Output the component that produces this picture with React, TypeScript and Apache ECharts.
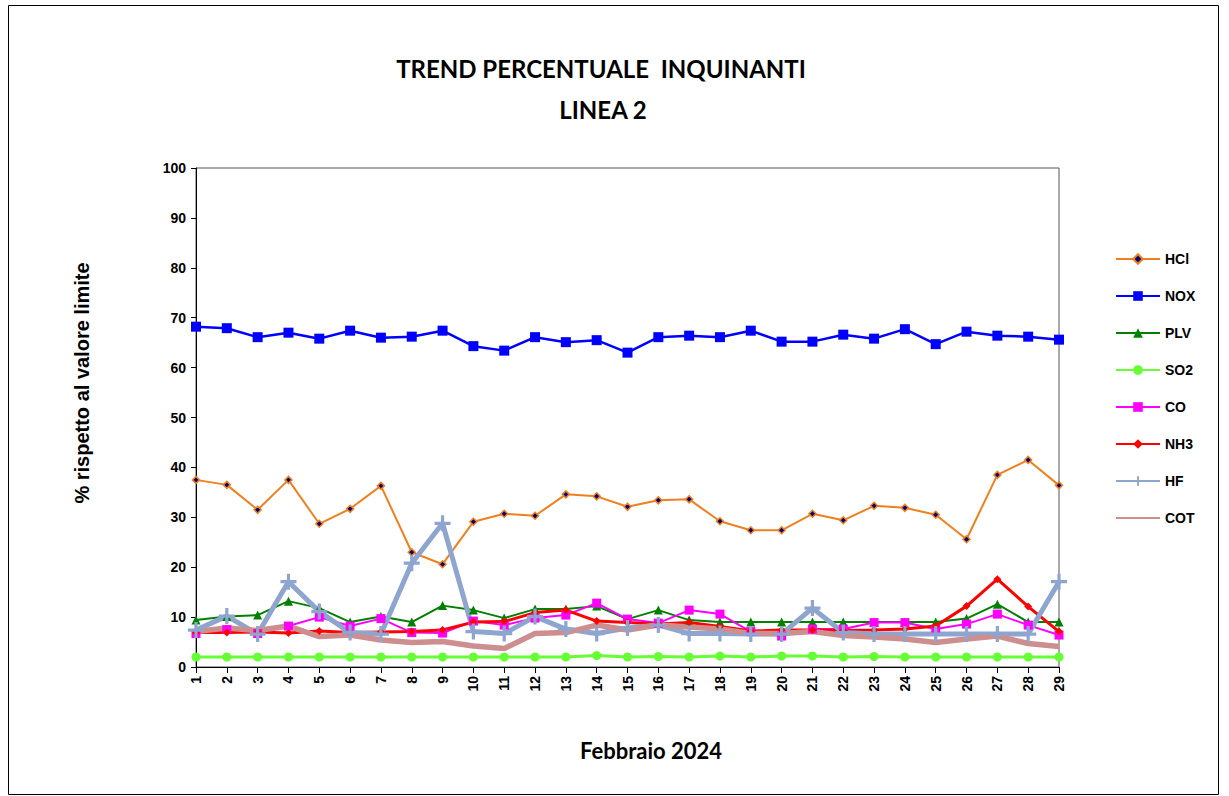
import React, { useEffect, useRef } from "react";
import * as echarts from "echarts";

const days = ["1","2","3","4","5","6","7","8","9","10","11","12","13","14","15","16","17","18","19","20","21","22","23","24","25","26","27","28","29"];
const yTicks = [0, 10, 20, 30, 40, 50, 60, 70, 80, 90, 100];

const hcl = [37.5, 36.5, 31.5, 37.5, 28.7, 31.7, 36.3, 23.0, 20.6, 29.1, 30.7, 30.3, 34.6, 34.2, 32.1, 33.4, 33.6, 29.2, 27.4, 27.4, 30.7, 29.4, 32.3, 31.9, 30.5, 25.6, 38.5, 41.5, 36.4];
const nox = [68.2, 67.9, 66.1, 67.0, 65.8, 67.4, 66.0, 66.2, 67.4, 64.3, 63.4, 66.1, 65.1, 65.5, 63.0, 66.1, 66.4, 66.1, 67.4, 65.2, 65.2, 66.6, 65.8, 67.7, 64.7, 67.2, 66.4, 66.2, 65.6];
const plv = [9.4, 10.1, 10.4, 13.2, 11.8, 9.0, 10.1, 9.0, 12.3, 11.4, 9.8, 11.6, 11.6, 12.2, 9.6, 11.4, 9.4, 9.0, 9.0, 9.0, 9.0, 9.0, 9.0, 9.0, 9.0, 9.7, 12.6, 9.0, 9.0];
const so2 = [2.0, 2.0, 2.0, 2.0, 2.0, 2.0, 2.0, 2.0, 2.0, 2.0, 2.0, 2.0, 2.0, 2.3, 2.0, 2.1, 2.0, 2.2, 2.0, 2.2, 2.2, 2.0, 2.1, 2.0, 2.0, 2.0, 2.0, 2.0, 2.0];
const co = [6.7, 7.5, 6.7, 8.2, 10.0, 8.2, 9.7, 6.9, 6.8, 9.2, 8.4, 9.8, 10.4, 12.8, 9.6, 8.8, 11.4, 10.6, 7.1, 6.2, 7.6, 7.6, 8.9, 8.9, 7.6, 8.6, 10.6, 8.4, 6.4];
const nh3 = [6.9, 6.9, 7.0, 6.8, 7.2, 6.9, 7.0, 7.1, 7.4, 9.0, 9.1, 10.9, 11.4, 9.2, 8.9, 8.6, 8.9, 8.1, 7.2, 7.4, 7.4, 7.3, 7.4, 7.6, 8.2, 12.2, 17.6, 12.1, 7.1];
const hf = [7.4, 10.2, 6.6, 17.1, 11.1, 6.9, 6.6, 20.8, 28.8, 7.1, 6.7, 10.1, 7.6, 6.7, 7.8, 8.4, 6.7, 6.7, 6.6, 6.6, 11.8, 6.9, 6.6, 6.6, 6.6, 6.6, 6.6, 6.6, 17.1];
const cot = [7.1, 7.8, 7.3, 8.2, 6.1, 6.4, 5.4, 4.9, 5.1, 4.2, 3.7, 6.7, 6.9, 8.4, 7.4, 8.4, 8.0, 7.6, 6.7, 6.7, 7.1, 6.3, 6.0, 5.6, 4.9, 5.6, 6.2, 4.7, 4.1];

const plusPath = "path://M4,0 L6,0 L6,4 L10,4 L10,6 L6,6 L6,10 L4,10 L4,6 L0,6 L0,4 L4,4 Z";

export default function App() {
  const ref = useRef<HTMLDivElement>(null);
  useEffect(() => {
    if (!ref.current) return;
    const chart = echarts.init(ref.current, null, { renderer: "svg" });
    const axisFont = { fontFamily: "Liberation Sans", fontWeight: "bold" as const, fontSize: 14, color: "#000" };
    const mk = (name: string, data: number[], color: string, width: number, symbol: string, size: number, extra: any = {}) => ({
      name,
      type: "line",
      data,
      symbol,
      symbolSize: size,
      showSymbol: symbol !== "none",
      lineStyle: { color, width },
      itemStyle: { color, borderColor: color, borderWidth: 0 },
      emphasis: { disabled: true },
      ...extra,
    });
    chart.setOption({
      animation: false,
      backgroundColor: "#fff",
      graphic: [
        { type: "rect", shape: { x: 8.5, y: 5.5, width: 1210, height: 789 }, style: { fill: "none", stroke: "#000", lineWidth: 1 }, silent: true },
        { type: "text", x: 601, y: 68, style: { text: "TREND PERCENTUALE  INQUINANTI", font: "bold 24px Lato", fill: "#000", textAlign: "center", textVerticalAlign: "middle" } },
        { type: "text", x: 603, y: 109, style: { text: "LINEA 2", font: "bold 24px Lato", fill: "#000", textAlign: "center", textVerticalAlign: "middle" } },
        { type: "text", x: 651, y: 750, style: { text: "Febbraio 2024", font: "bold 22px Lato", fill: "#000", textAlign: "center", textVerticalAlign: "middle" } },
        { type: "text", x: 82, y: 383, rotation: Math.PI / 2, style: { text: "% rispetto al valore limite", font: "bold 20px 'Liberation Sans'", fill: "#000", textAlign: "center", textVerticalAlign: "middle" } },
      ],
      legend: {
        orient: "vertical",
        left: 1110,
        top: 247,
        itemWidth: 44,
        itemHeight: 12,
        itemGap: 23,
        textStyle: { ...axisFont, fontSize: 14 },
        data: ["HCl", "NOX", "PLV", "SO2", "CO", "NH3", "HF", { name: "COT", itemStyle: { opacity: 0 } }],
      },
      grid: { left: 196, top: 168, right: 170, bottom: 129, show: true, borderColor: "#555", borderWidth: 1 },
      xAxis: {
        type: "category",
        data: days,
        boundaryGap: false,
        axisLine: { lineStyle: { color: "#000", width: 1 } },
        axisTick: { show: true, inside: false, length: 6, alignWithLabel: true, lineStyle: { color: "#000" } },
        axisLabel: { ...axisFont, rotate: 90, margin: 9, interval: 0 },
        splitLine: { show: false },
      },
      yAxis: {
        type: "value",
        min: 0,
        max: 100,
        interval: 10,
        axisLine: { show: true, lineStyle: { color: "#000", width: 1 } },
        axisTick: { show: true, length: 5, lineStyle: { color: "#000" } },
        axisLabel: { ...axisFont, margin: 10, formatter: (v: number) => (yTicks.includes(v) ? String(v) : "") },
        splitLine: { show: false },
      },
      series: [
        mk("HCl", hcl, "#F07F1E", 2, "diamond", 7, { itemStyle: { color: "#000080", borderColor: "#F07F1E", borderWidth: 1.5 } }),
        mk("NOX", nox, "#0000FF", 2.5, "rect", 10),
        mk("PLV", plv, "#008000", 2, "triangle", 9),
        mk("SO2", so2, "#66FF33", 3, "circle", 9),
        mk("CO", co, "#FF00FF", 2, "rect", 9),
        mk("NH3", nh3, "#FF0000", 3, "diamond", 8),
        mk("HF", hf, "#8EA6CF", 5, plusPath, 16),
        mk("COT", cot, "#CC8E8E", 5.5, "none", 0),
      ],
    });
    return () => chart.dispose();
  }, []);
  return <div ref={ref} style={{ position: "absolute", left: 0, top: 0, width: 1229, height: 796 }} />;
}
